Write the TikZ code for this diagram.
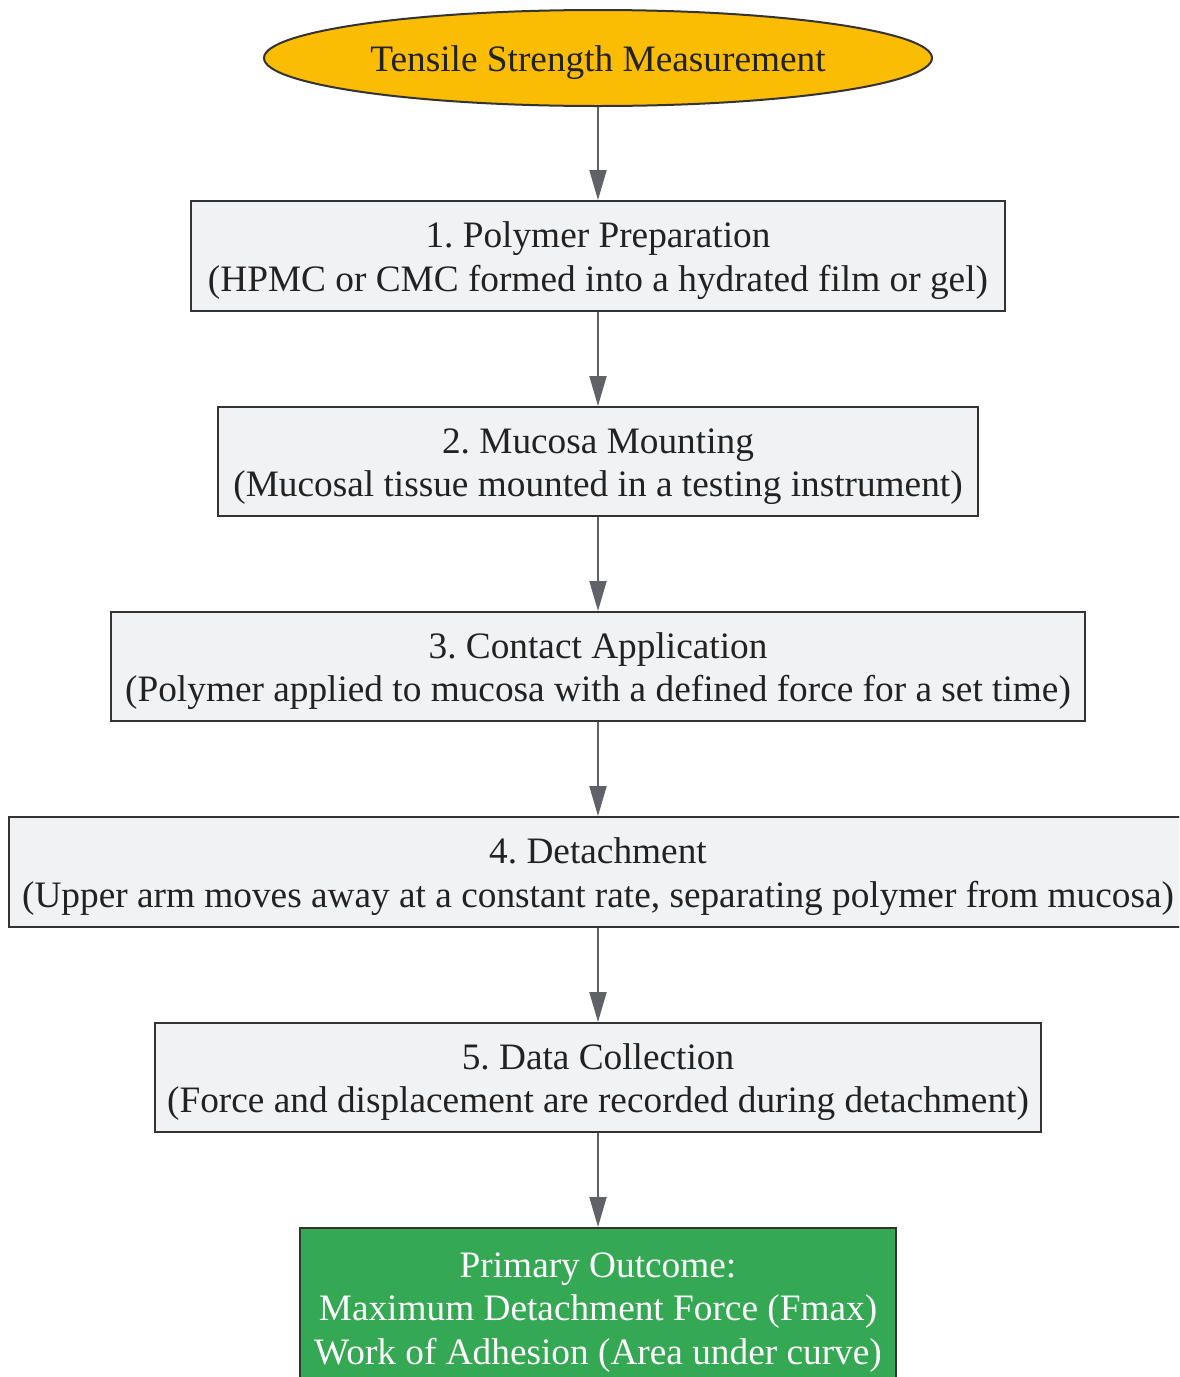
\documentclass[tikz,border=0pt]{standalone}
\usepackage{fontspec}
\setmainfont{Liberation Serif}
\usetikzlibrary{shapes.geometric,arrows.meta}
\definecolor{txt}{HTML}{222222}
\definecolor{bord}{HTML}{333333}
\definecolor{boxfill}{HTML}{F1F2F4}
\definecolor{yel}{HTML}{FBBC04}
\definecolor{grn}{HTML}{34A853}
\definecolor{arrc}{HTML}{5F6368}
\newcommand\shiftlines[1]{\raisebox{-5pt}[\height][\depth]{\begin{tabular}{@{}c@{}}#1\end{tabular}}}
\begin{document}
\begin{tikzpicture}[x=1pt,y=-1pt,
  every node/.style={font=\fontsize{37.3}{43.5}\selectfont\frenchspacing, text=txt, inner sep=0pt},
  stepbox/.style={draw=bord, fill=boxfill, line width=2pt, rectangle},
  startnode/.style={ellipse, draw=bord, fill=yel, line width=2pt},
  outbox/.style={draw=bord, fill=grn, line width=2pt, rectangle, text=white},
  arr/.style={draw=arrc, line width=2pt, -{Triangle[length=30pt,width=17pt]}}]
\useasboundingbox (0,0) rectangle (1179,1377);
\clip (0,0) rectangle (1179,1377);
\fill[white] (0,0) rectangle (1179,1377);
\node[startnode, minimum width=668pt, minimum height=96pt] (e) at (598,58) {\shiftlines{Tensile Strength Measurement}};
\node[stepbox, minimum width=814pt, minimum height=110pt] (b1) at (598,256) {\shiftlines{1. Polymer Preparation\\(HPMC or CMC formed into a hydrated film or gel)}};
\node[stepbox, minimum width=760pt, minimum height=109pt] (b2) at (598,461.5) {\shiftlines{2. Mucosa Mounting\\(Mucosal tissue mounted in a testing instrument)}};
\node[stepbox, minimum width=974pt, minimum height=109pt] (b3) at (598,666.5) {\shiftlines{3. Contact Application\\(Polymer applied to mucosa with a defined force for a set time)}};
\node[stepbox, minimum width=1178pt, minimum height=110pt] (b4) at (598,872) {\shiftlines{4. Detachment\\(Upper arm moves away at a constant rate, separating polymer from mucosa)}};
\node[stepbox, minimum width=886pt, minimum height=109pt] (b5) at (598,1077.5) {\shiftlines{5. Data Collection\\(Force and displacement are recorded during detachment)}};
\node[outbox, minimum width=596pt, minimum height=158pt] (b6) at (598,1307) {\shiftlines{Primary Outcome:\\Maximum Detachment Force (Fmax)\\Work of Adhesion (Area under curve)}};
\draw[arr] (e.south) -- (b1.north);
\draw[arr] (b1.south) -- (b2.north);
\draw[arr] (b2.south) -- (b3.north);
\draw[arr] (b3.south) -- (b4.north);
\draw[arr] (b4.south) -- (b5.north);
\draw[arr] (b5.south) -- (b6.north);
\end{tikzpicture}
\end{document}
